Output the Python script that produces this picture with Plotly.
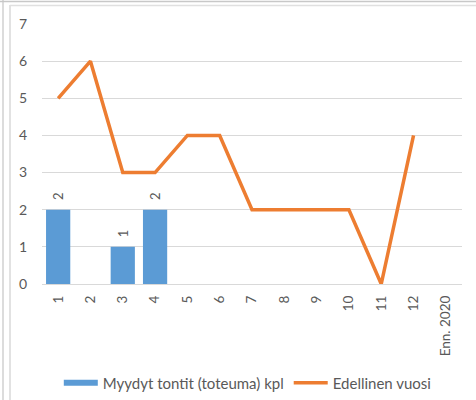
import plotly.graph_objects as go

categories = ["1", "2", "3", "4", "5", "6", "7", "8", "9", "10", "11", "12", "Enn. 2020"]
sold_plots = [2, None, 1, 2, None, None, None, None, None, None, None, None, None]
previous_year = [5, 6, 3, 3, 4, 4, 2, 2, 2, 2, 0, 4, None]
y_ticks = [0, 1, 2, 3, 4, 5, 6, 7]

L, R, T, B = 42, 14, 24, 116
W, H = 476, 400
pw, ph = W - L - R, H - T - B

def px(x):
    return (x - L) / pw

def py(y):
    return (H - B - y) / ph

font_family = "Lato, Carlito, Liberation Sans, Arial, sans-serif"
gray = "#595959"
blue = "#5B9BD5"
orange = "#ED7D31"

fig = go.Figure()
fig.add_trace(go.Bar(
    x=categories, y=sold_plots, name="Myydyt tontit (toteuma) kpl",
    marker=dict(color=blue, line=dict(width=0)),
    text=["\u00a0\u00a0" + str(v) if v is not None else "" for v in sold_plots],
    textposition="outside", textangle=-90,
    textfont=dict(color=gray, size=13, family=font_family),
    cliponaxis=False, showlegend=False, hoverinfo="skip",
))
# legend swatch for the bars (wide rectangle like the original)
fig.add_trace(go.Scatter(
    x=[None], y=[None], name="Myydyt tontit (toteuma) kpl", mode="lines",
    line=dict(color=blue, width=6),
))
fig.add_trace(go.Scatter(
    x=categories, y=previous_year, name="Edellinen vuosi", mode="lines",
    line=dict(color=orange, width=3.5), hoverinfo="skip",
))

shapes = [
    dict(type="line", xref="paper", yref="paper", x0=px(3), x1=px(3), y0=py(0), y1=py(400),
         line=dict(color="#DCDCDC", width=2)),
    dict(type="line", xref="paper", yref="paper", x0=px(10), x1=px(10), y0=py(5), y1=py(400),
         line=dict(color="#D9D9D9", width=1.5)),
    dict(type="line", xref="paper", yref="paper", x0=px(0), x1=px(476), y0=py(1.5), y1=py(1.5),
         line=dict(color="#C8C8C8", width=1.5)),
    dict(type="line", xref="paper", yref="paper", x0=px(10), x1=px(476), y0=py(5.5), y1=py(5.5),
         line=dict(color="#E0E0E0", width=1.5)),
]

fig.update_layout(
    width=W, height=H,
    margin=dict(l=L, r=R, t=T, b=B, autoexpand=False),
    paper_bgcolor="white", plot_bgcolor="white",
    font=dict(family=font_family, size=13, color=gray),
    bargap=0.25,
    showlegend=True,
    hovermode=False,
    legend=dict(orientation="h", x=0.49, xanchor="center", y=py(383), yanchor="middle",
                font=dict(size=15, color=gray), itemwidth=34, tracegroupgap=0),
    shapes=shapes,
    xaxis=dict(type="category", categoryorder="array", categoryarray=categories,
               tickangle=-90, showgrid=False, showline=False, ticks="", zeroline=False,
               ticklabelstandoff=8, tickfont=dict(size=13.5, color=gray)),
    yaxis=dict(range=[0, 7], tickvals=y_ticks, showgrid=True, gridcolor="#D9D9D9", gridwidth=1,
               zeroline=True, zerolinecolor="#D9D9D9", zerolinewidth=1, showline=False,
               ticks="", ticklabelstandoff=14, tickfont=dict(size=14, color=gray)),
)

fig.write_html("out.html", config={"displayModeBar": False},
               post_script="document.body.style.margin='0';document.body.style.overflow='hidden';")
